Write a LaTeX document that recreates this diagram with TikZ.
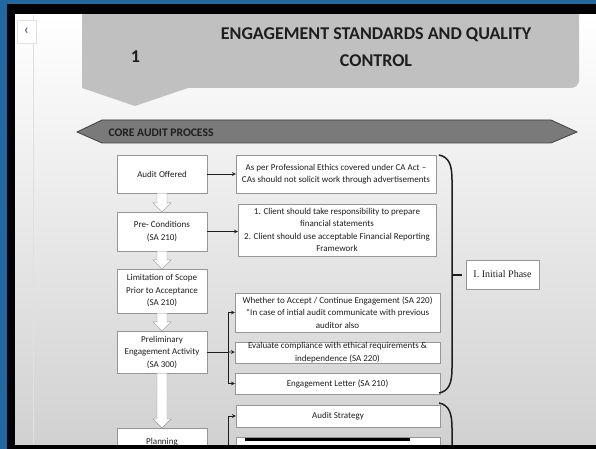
\documentclass[tikz,border=0pt]{standalone}
\usepackage{fontspec}
\setmainfont{Carlito}
\newfontfamily\phasefont{Liberation Serif}
\usetikzlibrary{calc}

\definecolor{deskblue}{RGB}{34,104,158}
\definecolor{headgray}{RGB}{193,192,193}
\definecolor{bargray}{RGB}{123,122,123}
\definecolor{boxline}{RGB}{150,150,150}
\definecolor{inkdark}{RGB}{30,30,30}

\tikzset{
	lbox/.style={draw=boxline, fill=white, minimum width=90pt, inner sep=1pt, align=center, text=inkdark, font=\fontsize{9}{12.5}\selectfont},
	rbox/.style={draw=boxline, fill=white, inner sep=0pt, align=center, text=inkdark, font=\fontsize{9}{12.5}\selectfont},
	blockarrow/.style={draw=boxline, fill=white, line join=miter},
	link/.style={->, >=stealth, line width=0.7pt, color=inkdark},
	plain/.style={line width=0.7pt, color=inkdark},
	brace/.style={line width=1.5pt, color=inkdark}
}

% hollow down arrow between two boxes of the left column
\newcommand{\hollowarrow}[2]{%
	\draw[blockarrow] let \p1=(#1.south), \p2=(#2.north) in
		(\x1-5pt,\y1) -- (\x1-5pt,\y2+9pt) -- (\x1-9pt,\y2+9pt) -- (\x1,\y2)
		-- (\x1+9pt,\y2+9pt) -- (\x1+5pt,\y2+9pt) -- (\x1+5pt,\y1) -- cycle;}

\begin{document}
\begin{tikzpicture}[x=1pt,y=-1pt]
	\useasboundingbox (0,0) rectangle (596,449);
	\fill[deskblue] (0,0) rectangle (596,449);
	\fill[black] (7,4) rectangle (596,449);
	\begin{scope}
		\clip (15,15) rectangle (596,444);
		\shade[top color=white, middle color=white, bottom color=black!18] (15,15) rectangle (596,444);
		\draw[black!12] (33,15) -- (33,444);
		\node[draw=black!12, fill=white, minimum width=19pt, minimum height=23pt, inner sep=0pt, text=black!55!blue!60!gray, font=\fontsize{15}{15}\selectfont] (back) at (26.5,31.5) {‹};

		% header
		\fill[headgray, rounded corners=8pt] (82,0) rectangle (579,88);
		\fill[headgray] (82,70) -- (82,88) -- (135,106) -- (188,88) -- (188,70) -- cycle;
		\node[text=inkdark, font=\bfseries\fontsize{18}{18}\selectfont] (num) at (135.5,57) {1};
		\node[text=inkdark, align=center, font=\bfseries\fontsize{18}{27.5}\selectfont] (title) at (376,47) {ENGAGEMENT STANDARDS AND QUALITY\\CONTROL};

		\draw[fill=bargray, draw=black!75, line width=0.8pt] (77,132) -- (102,120) -- (551,120) -- (577,132) -- (551,143) -- (102,143) -- cycle;
		\node[anchor=west, text=inkdark, font=\bfseries\fontsize{11.6}{11.6}\selectfont] (core) at (105,132.5) {CORE AUDIT PROCESS};

		% left column
		\node[lbox, minimum height=38pt] (a1) at (162,174) {Audit Offered};
		\node[lbox, minimum height=39pt] (a2) at (162,231.5) {Pre- Conditions\\(SA 210)};
		\node[lbox, minimum height=44pt] (a3) at (162,291) {Limitation of Scope\\Prior to Acceptance\\(SA 210)};
		\node[lbox, minimum height=42pt] (a4) at (162,352) {Preliminary\\Engagement Activity\\(SA 300)};
		\node[lbox, anchor=north, text height=13pt, text depth=20pt, inner ysep=3pt] (a5) at (162,428) {Planning};
		\hollowarrow{a1}{a2}
		\hollowarrow{a2}{a3}
		\hollowarrow{a3}{a4}
		\hollowarrow{a4}{a5}

		% right column
		\node[rbox, minimum width=200pt, minimum height=38pt] (b1) at (336,174) {As per Professional Ethics covered under CA Act --\\CAs should not solicit work through advertisements};
		\node[rbox, minimum width=198pt, minimum height=52pt] (b2) at (337,230) {1. Client should take responsibility to prepare\\financial statements\\2. Client should use acceptable Financial Reporting\\Framework};
		\node[rbox, minimum width=205pt, minimum height=39pt] (b3) at (337.5,312.5) {Whether to Accept / Continue Engagement (SA 220)\\*In case of intial audit communicate with previous\\auditor also};
		\node[rbox, minimum width=205pt, minimum height=21pt] (b4) at (337.5,352.5) {Evaluate compliance with ethical requirements \&\\independence (SA 220)};
		\node[rbox, minimum width=205pt, minimum height=21pt] (b5) at (337.5,383.5) {Engagement Letter (SA 210)};
		\node[rbox, minimum width=204pt, minimum height=22pt] (b6) at (338,416) {Audit Strategy};
		\node[rbox, minimum width=204pt, minimum height=30pt] (b7) at (338,452) {};
		\draw[line width=3pt, black] ($(b7.north west)+(9,2.5)$) -- ($(b7.north east)+(-30,2.5)$);

		\draw[link] (a1) -- (b1);
		\draw[link] (a2) -- (a2 -| b2.west);
		\coordinate (fork) at (228,352);
		\draw[plain] (a4) -- (fork);
		\draw[link] (fork) |- (b3);
		\draw[link] (fork) -- (b4);
		\draw[link] (fork) |- (b5);
		\coordinate (fork2) at (a5.east -| fork);
		\draw[plain] (a5) -- (fork2);
		\draw[link] (fork2) |- (b6);

		% braces and phase
		\draw[brace] (439,155) .. controls (449,157) and (452,165) .. (452,180) -- (452,368) .. controls (452,383) and (449,391) .. (439,393);
		\draw[brace] (452,275) -- (462,275);
		\draw[brace] (439,403) .. controls (449,405) and (452,413) .. (452,428) -- (452,460);
		\node[rbox, minimum width=73pt, minimum height=29pt, font=\phasefont\fontsize{10}{10}\selectfont] (phase) at (502.5,274.5) {I. Initial Phase};
	\end{scope}
\end{tikzpicture}
\end{document}
